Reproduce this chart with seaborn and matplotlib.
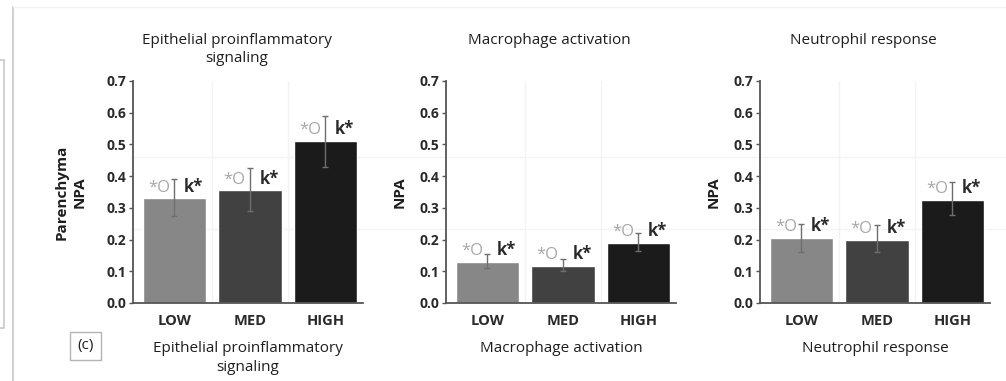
import numpy as np
import pandas as pd
import matplotlib
matplotlib.use("Agg")
import matplotlib.pyplot as plt
from matplotlib.lines import Line2D
from matplotlib.patches import Rectangle
import seaborn as sns

# ── Data ────────────────────────────────────────────────────────────────────
categories = ["LOW", "MED", "HIGH"]
panel_titles = ["Epithelial proinflammatory\nsignaling",
                "Macrophage activation",
                "Neutrophil response"]
y_labels = ["Parenchyma\nNPA", "NPA", "NPA"]
y_ticks = [0.0, 0.1, 0.2, 0.3, 0.4, 0.5, 0.6, 0.7]

epithelial_npa = [0.33, 0.355, 0.51]
epithelial_lo  = [0.275, 0.29, 0.43]
epithelial_hi  = [0.39, 0.425, 0.59]

macrophage_npa = [0.13, 0.118, 0.19]
macrophage_lo  = [0.11, 0.10, 0.165]
macrophage_hi  = [0.155, 0.14, 0.22]

neutrophil_npa = [0.205, 0.20, 0.325]
neutrophil_lo  = [0.162, 0.16, 0.278]
neutrophil_hi  = [0.25, 0.245, 0.38]

sig_left  = "*O"
sig_right = "k*"
panel_tag = "(c)"

bar_colors = ["#878787", "#414141", "#1b1b1b"]

# ── Style ───────────────────────────────────────────────────────────────────
sns.set_theme(style="white")
plt.rcParams["font.family"] = ["Open Sans", "DejaVu Sans"]
TEXT = "#1e1e1e"

fig = plt.figure(figsize=(10.06, 3.81), dpi=100)

# faint scan-like framing lines from the original figure
fig.add_artist(Line2D([13 / 1006, 13 / 1006], [0, 1 - 7 / 381],
                      color="#c8c8c8", lw=1.2))
fig.add_artist(Line2D([13 / 1006, 1], [1 - 7 / 381, 1 - 7 / 381],
                      color="#f2f2f2", lw=1))
fig.add_artist(Rectangle((-0.01, 1 - 328 / 381), 0.014, (328 - 60) / 381,
                         fill=False, edgecolor="#c8c8c8", lw=1.2))
for yy in (157, 229):
    fig.add_artist(Line2D([0.13, 1], [1 - yy / 381, 1 - yy / 381],
                          color="#f4f4f4", lw=1, zorder=0))

panels = [
    (epithelial_npa, epithelial_lo, epithelial_hi),
    (macrophage_npa, macrophage_lo, macrophage_hi),
    (neutrophil_npa, neutrophil_lo, neutrophil_hi),
]
lefts = [133 / 1006, 446 / 1006, 760 / 1006]
ylabel_pads = [14, 9, 9]
ax_w, ax_b, ax_h = 230 / 1006, 1 - 303 / 381, 222 / 381

for i, ((vals, lo, hi), left) in enumerate(zip(panels, lefts)):
    ax = fig.add_axes([left, ax_b, ax_w, ax_h])
    ax.set_facecolor("none")
    df = pd.DataFrame({"level": categories, "npa": vals})
    sns.barplot(data=df, x="level", y="npa", hue="level",
                palette=bar_colors, order=categories, hue_order=categories,
                width=0.84, legend=False, ax=ax, zorder=2)

    # error bars
    x = np.arange(len(categories))
    yerr = [np.array(vals) - np.array(lo), np.array(hi) - np.array(vals)]
    ax.errorbar(x, vals, yerr=yerr, fmt="none", ecolor="#6e6e6e",
                elinewidth=1, capsize=2, capthick=1, zorder=3)

    # faint category separators
    for xv in (0.5, 1.5):
        ax.plot([xv, xv], [0, 0.7], color="#f3f3f3", lw=1, zorder=0)

    # significance markers
    for xi, v in zip(x, vals):
        ax.annotate(sig_left, (xi, v), xytext=(-3, 2), textcoords="offset points",
                    ha="right", va="bottom", fontsize=12, color="#a8a8a8", zorder=4)
        ax.annotate(sig_right, (xi, v), xytext=(7, 2), textcoords="offset points",
                    ha="left", va="bottom", fontsize=12, color="#2a2a2a",
                    fontweight="bold", zorder=4)

    ax.set_xlim(-0.55, 2.5)
    ax.set_ylim(0, 0.7)
    ax.set_yticks(y_ticks)
    ax.set_yticklabels([f"{t:.1f}" for t in y_ticks], fontweight="bold")
    ax.set_xticks(x)
    ax.set_xticklabels(categories, fontweight="bold")
    ax.tick_params(axis="y", left=True, length=3, width=1, color="#555555",
                   labelsize=10, labelcolor="#2a2a2a", pad=2)
    ax.tick_params(axis="x", bottom=False, labelsize=10.5, labelcolor="#2a2a2a", pad=2)
    sns.despine(ax=ax)
    for sp in ("left", "bottom"):
        ax.spines[sp].set_color("#555555")
        ax.spines[sp].set_linewidth(1.3)

    ax.set_xlabel(panel_titles[i], fontsize=11, color=TEXT, labelpad=9,
                  linespacing=1.4)
    ax.set_ylabel(y_labels[i], fontsize=11, fontweight="bold", color=TEXT,
                  labelpad=ylabel_pads[i], linespacing=1.35)
    ax.text(0.45, 1.218, panel_titles[i], transform=ax.transAxes,
            ha="center", va="top", fontsize=11, color=TEXT, linespacing=1.35)

# panel tag
fig.text(85.5 / 1006, 1 - 346 / 381, panel_tag, ha="center", va="center",
         fontsize=11, color=TEXT,
         bbox=dict(boxstyle="square,pad=0.45", fc="white", ec="#b4b4b4", lw=1))

fig.savefig("out.png", dpi=100)
